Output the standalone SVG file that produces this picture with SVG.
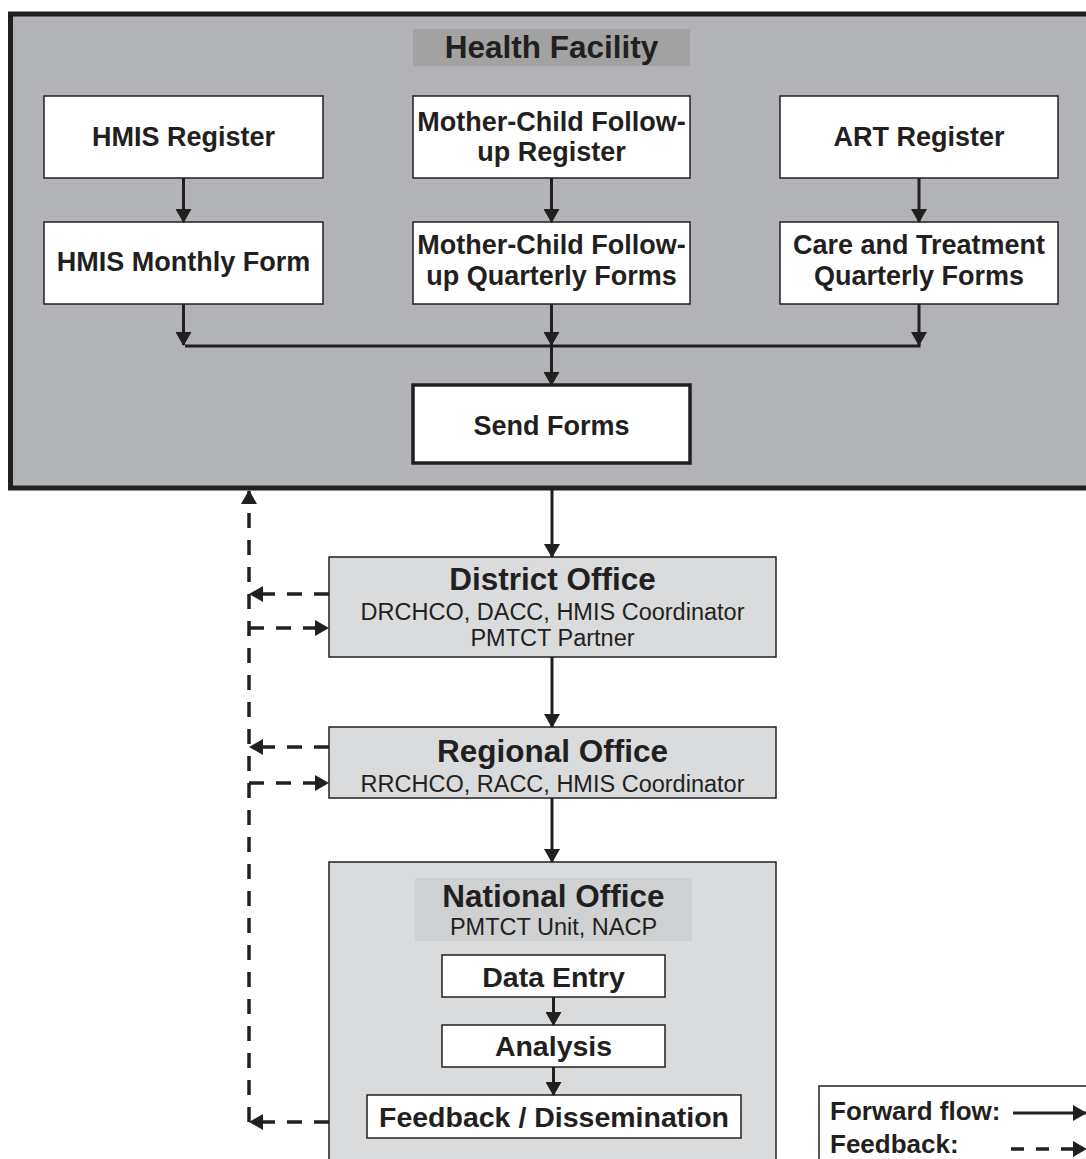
<svg xmlns="http://www.w3.org/2000/svg" width="1086" height="1159" viewBox="0 0 1086 1159">
<defs>
<marker id="ah" viewBox="0 0 14 16" refX="13" refY="8" markerWidth="14" markerHeight="16" markerUnits="userSpaceOnUse" orient="auto">
<path d="M0,0 L14,8 L0,16 Z" fill="#231f20"/>
</marker>
<style>
.box{fill:#ffffff;stroke:#231f20;stroke-width:1.5}
.off{fill:#dadbdd;stroke:#231f20;stroke-width:1.5}
.bt{font-family:"Liberation Sans",Arial,sans-serif;font-weight:bold;font-size:27px;fill:#231f20;text-anchor:middle}
.nt{font-family:"Liberation Sans",Arial,sans-serif;font-weight:bold;font-size:28.5px;fill:#231f20;text-anchor:middle}
.tt{font-family:"Liberation Sans",Arial,sans-serif;font-weight:bold;font-size:31.5px;fill:#231f20;text-anchor:middle}
.st{font-family:"Liberation Sans",Arial,sans-serif;font-size:23.5px;fill:#231f20;text-anchor:middle}
.lt{font-family:"Liberation Sans",Arial,sans-serif;font-weight:bold;font-size:26px;fill:#231f20;text-anchor:start}
.fw{fill:none;stroke:#231f20;stroke-width:3}
.fb{fill:none;stroke:#231f20;stroke-width:3.5;stroke-dasharray:15 12}
</style>
</defs>
<rect width="1086" height="1159" fill="#ffffff"/>

<g id="health-facility">
<rect x="10.5" y="14" width="1090" height="474" fill="#b2b3b6" stroke="#231f20" stroke-width="5"/>
<rect x="413" y="29" width="277" height="37" fill="#a1a2a1"/>
<text class="tt" x="551.5" y="58">Health Facility</text>
</g>

<g id="hmis-register">
<rect class="box" x="44" y="96" width="279" height="82"/>
<text class="bt" x="183.5" y="146">HMIS Register</text>
</g>
<g id="mc-register">
<rect class="box" x="413" y="96" width="277" height="82"/>
<text class="bt" x="551.5" y="131">Mother-Child Follow-</text>
<text class="bt" x="551.5" y="161">up Register</text>
</g>
<g id="art-register">
<rect class="box" x="780" y="96" width="278" height="82"/>
<text class="bt" x="919" y="146">ART Register</text>
</g>
<g id="hmis-monthly">
<rect class="box" x="44" y="222" width="279" height="82"/>
<text class="bt" x="183.5" y="271">HMIS Monthly Form</text>
</g>
<g id="mc-quarterly">
<rect class="box" x="413" y="222" width="277" height="82"/>
<text class="bt" x="551.5" y="254">Mother-Child Follow-</text>
<text class="bt" x="551.5" y="285">up Quarterly Forms</text>
</g>
<g id="ct-quarterly">
<rect class="box" x="780" y="222" width="278" height="82"/>
<text class="bt" x="919" y="254">Care and Treatment</text>
<text class="bt" x="919" y="285">Quarterly Forms</text>
</g>
<g id="send-forms">
<rect x="413" y="385" width="277" height="78" fill="#ffffff" stroke="#231f20" stroke-width="3.5"/>
<text class="bt" x="551.5" y="435" font-size="25">Send Forms</text>
</g>

<g id="district-office">
<rect class="off" x="329" y="557" width="447" height="100"/>
<text class="tt" x="552.5" y="590">District Office</text>
<text class="st" x="552.5" y="620">DRCHCO, DACC, HMIS Coordinator</text>
<text class="st" x="552.5" y="646">PMTCT Partner</text>
</g>
<g id="regional-office">
<rect class="off" x="329" y="727" width="447" height="71"/>
<text class="tt" x="552.5" y="762">Regional Office</text>
<text class="st" x="552.5" y="792">RRCHCO, RACC, HMIS Coordinator</text>
</g>
<g id="national-office">
<rect class="off" x="329" y="862" width="447" height="310"/>
<rect x="415" y="878" width="277" height="63" fill="#cfd0d2"/>
<text class="tt" x="553.5" y="907" font-size="28">National Office</text>
<text class="st" x="553.5" y="935">PMTCT Unit, NACP</text>
</g>
<g id="data-entry">
<rect class="box" x="442" y="955" width="223" height="42"/>
<text class="nt" x="553.5" y="987">Data Entry</text>
</g>
<g id="analysis">
<rect class="box" x="442" y="1025" width="223" height="42"/>
<text class="nt" x="553.5" y="1056">Analysis</text>
</g>
<g id="feedback-dissemination">
<rect class="box" x="367" y="1095" width="374" height="43"/>
<text class="nt" x="554" y="1127">Feedback / Dissemination</text>
</g>

<g id="legend">
<rect x="819" y="1086" width="280" height="90" fill="#ffffff" stroke="#231f20" stroke-width="1.5"/>
<text class="lt" x="830" y="1120">Forward flow:</text>
<text class="lt" x="830" y="1153">Feedback:</text>
<line class="fw" x1="1013" y1="1113" x2="1086" y2="1113" marker-end="url(#ah)"/>
<line class="fb" x1="1011" y1="1149" x2="1086" y2="1149" style="stroke-dasharray:13 12" marker-end="url(#ah)"/>
</g>

<g id="connectors">
<line class="fw" x1="183.5" y1="178" x2="183.5" y2="222" marker-end="url(#ah)"/>
<line class="fw" x1="551.5" y1="178" x2="551.5" y2="222" marker-end="url(#ah)"/>
<line class="fw" x1="919" y1="178" x2="919" y2="222" marker-end="url(#ah)"/>
<line class="fw" x1="183.5" y1="304" x2="183.5" y2="345" marker-end="url(#ah)"/>
<line class="fw" x1="551.5" y1="304" x2="551.5" y2="345" marker-end="url(#ah)"/>
<line class="fw" x1="919" y1="304" x2="919" y2="345" marker-end="url(#ah)"/>
<line class="fw" x1="185" y1="346" x2="920.5" y2="346"/>
<line class="fw" x1="551.5" y1="346" x2="551.5" y2="385" marker-end="url(#ah)"/>
<line class="fw" x1="552" y1="490" x2="552" y2="557" marker-end="url(#ah)"/>
<line class="fw" x1="552" y1="657" x2="552" y2="727" marker-end="url(#ah)"/>
<line class="fw" x1="552" y1="798" x2="552" y2="862" marker-end="url(#ah)"/>
<line class="fw" x1="553.5" y1="997" x2="553.5" y2="1025" marker-end="url(#ah)"/>
<line class="fw" x1="553.5" y1="1067" x2="553.5" y2="1095" marker-end="url(#ah)"/>
<line class="fb" x1="249" y1="1122" x2="249" y2="491" marker-end="url(#ah)"/>
<line class="fb" x1="329" y1="594" x2="250" y2="594" marker-end="url(#ah)"/>
<line class="fb" x1="249" y1="628" x2="328" y2="628" marker-end="url(#ah)"/>
<line class="fb" x1="329" y1="747" x2="250" y2="747" marker-end="url(#ah)"/>
<line class="fb" x1="249" y1="783" x2="328" y2="783" marker-end="url(#ah)"/>
<line class="fb" x1="329" y1="1122" x2="250" y2="1122" marker-end="url(#ah)"/>
</g>
</svg>
